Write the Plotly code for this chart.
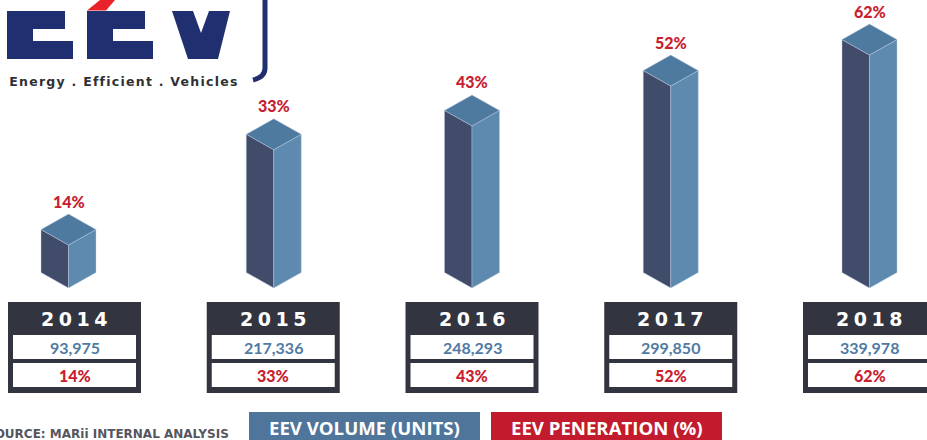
# EEV volume and penetration infographic, isometric columns drawn on a volume axis
import json

import plotly.graph_objects as go

# ── Data ─────────────────────────────────────────────────────────
YEARS = ["2014", "2015", "2016", "2017", "2018"]
VOLUME = [93975, 217336, 248293, 299850, 339978]
PENETRATION = [14, 33, 43, 52, 62]

# ── Colors ───────────────────────────────────────────────────────
FACE_LEFT = "#414c6a"
FACE_RIGHT = "#5d8aae"
FACE_TOP = "#4f7aa0"
EDGE = "rgba(190,205,228,0.55)"
TABLE_DARK = "#32353f"
BLUE_TEXT = "#4f7aa3"
RED_TEXT = "#c8202f"
LEGEND_BLUE = "#4f759b"
LEGEND_RED = "#c21b2e"
NAVY = "#1f2f70"
SWOOSH = "#e8232a"

# ── Canvas and scale ─────────────────────────────────────────────
W, H = 927, 440
COL_STEP = 198.75       # px between columns
COL_FIRST = 74.5        # px centre of first column
UNITS_PER_PX = 1295.0   # volume units per vertical px
BASE_VALUE = 38345      # volume at which a column has no height
BASE_PX = 288           # px row of that volume

X_RANGE = [(0 - COL_FIRST) / COL_STEP, (W - COL_FIRST) / COL_STEP]
Y_RANGE = [BASE_VALUE + (BASE_PX - H) * UNITS_PER_PX, BASE_VALUE + BASE_PX * UNITS_PER_PX]

HALF_W = 27.5 / COL_STEP        # half column width, in column units
DEPTH = 15.5 * UNITS_PER_PX     # isometric rise of the side edges
COL_NUDGE = [-6.0, 0.5, 0, 0, 0]  # first columns sit a little off their tables
TAGLINE = "Energy . Efficient . Vehicles"


def px(x):
    return x / W


def py(y):
    return 1 - y / H


def face(fig, xs, ys, color):
    fig.add_trace(go.Scatter(
        x=xs, y=ys, mode="lines", fill="toself", fillcolor=color,
        line=dict(color=EDGE, width=0.8), hoverinfo="skip", showlegend=False,
    ))


def label(fig, text, x, y, size, color, family="Lato", xanchor="center", xref="paper", weight="bold", xshift=0):
    fig.add_annotation(
        text=text, x=x, y=y, xref=xref, yref="paper", xanchor=xanchor, yanchor="middle", xshift=xshift,
        showarrow=False, font=dict(family=family, size=size, color=color, weight=weight),
    )


def rect(fig, x0, x1, y0, y1, color, xref="paper"):
    fig.add_shape(type="rect", xref=xref, yref="paper", x0=x0, x1=x1, y0=py(y0), y1=py(y1),
                  fillcolor=color, line=dict(width=0), layer="below")


fig = go.Figure()

# ── Columns ──────────────────────────────────────────────────────
for i, v in enumerate(VOLUME):
    c = i + COL_NUDGE[i] / COL_STEP
    l, r = c - HALF_W, c + HALF_W
    face(fig, [l, c, c, l, l], [v + DEPTH, v, BASE_VALUE, BASE_VALUE + DEPTH, v + DEPTH], FACE_LEFT)
    face(fig, [c, r, r, c, c], [v, v + DEPTH, BASE_VALUE + DEPTH, BASE_VALUE, v], FACE_RIGHT)
    face(fig, [l, c, r, c, l], [v + DEPTH, v + 2 * DEPTH, v + DEPTH, v, v + DEPTH], FACE_TOP)
    fig.add_annotation(
        text=f"{PENETRATION[i]}%", x=c, y=v + 2 * DEPTH, yshift=13, yanchor="middle",
        showarrow=False, font=dict(family="Lato", size=16, color=RED_TEXT, weight=900),
    )

# ── Tables under the columns ─────────────────────────────────────
for i, year in enumerate(YEARS):
    outer = 66.5 / COL_STEP
    inner = 61.5 / COL_STEP
    rect(fig, i - outer, i + outer, 302, 393, TABLE_DARK, xref="x")
    rect(fig, i - inner, i + inner, 335, 359, "white", xref="x")
    rect(fig, i - inner, i + inner, 363, 387, "white", xref="x")
    label(fig, year, i, py(318.5), 19, "white", family="DejaVu Sans", xref="x", xshift=2)
    label(fig, f"{VOLUME[i]:,}", i, py(347.5), 16, BLUE_TEXT, xref="x")
    label(fig, f"{PENETRATION[i]}%", i, py(375), 16, RED_TEXT, xref="x", weight=900)

# ── Legend strip and source ──────────────────────────────────────
rect(fig, px(249), px(480), 412, 440, LEGEND_BLUE)
rect(fig, px(491), px(722), 412, 440, LEGEND_RED)
label(fig, "EEV VOLUME (UNITS)", px(364.5), py(427), 18.6, "white", family="Open Sans")
label(fig, "EEV PENERATION (%)", px(606.5), py(427), 18.6, "white", family="Open Sans")
label(fig, "SOURCE: MARii INTERNAL ANALYSIS", px(231), py(434), 12, "#55565e",
      family="DejaVu Sans", xanchor="right")

# ── Logo ─────────────────────────────────────────────────────────
E_SHAPE = "M {a} 11 L {b} 11 L {b} 29 L {c} 29 L {c} 41 L {d} 41 L {d} 59 L {a} 59 Z"
logo_paths = [
    (E_SHAPE.format(a=7, b=65, c=33, d=73), NAVY),
    (E_SHAPE.format(a=87, b=145, c=113, d=153), NAVY),
    ("M 172 11 L 193 11 L 201 33 L 209 11 L 230 11 L 218 59 L 188 59 Z", NAVY),
    ("M 87 10.5 L 100 0 L 115 0 L 106 10.5 Z", SWOOSH),
]
for path, color in logo_paths:
    fig.add_shape(type="path", path=path, xref="x2", yref="y2", fillcolor=color, line=dict(width=0))
fig.add_shape(type="path", path="M 265 0 L 265 68 Q 265 77 253 80", xref="x2", yref="y2",
              line=dict(color=NAVY, width=5))
label(fig, TAGLINE, px(124), py(81), 12.5, "#2f3033", family="DejaVu Sans")

fig.update_layout(
    width=W,
    height=H,
    margin=dict(l=0, r=0, t=0, b=0),
    paper_bgcolor="white",
    plot_bgcolor="white",
    showlegend=False,
    xaxis=dict(range=X_RANGE, visible=False, fixedrange=True),
    yaxis=dict(range=Y_RANGE, visible=False, fixedrange=True),
    # pixel grid used only for the logo artwork
    xaxis2=dict(range=[0, W], visible=False, overlaying="x", fixedrange=True),
    yaxis2=dict(range=[H, 0], visible=False, overlaying="y", fixedrange=True),
)
fig.add_trace(go.Scatter(x=[None], y=[None], xaxis="x2", yaxis="y2", hoverinfo="skip"))

# plotly has no letter-spacing option, so the wide-set labels get it after the draw
POST_SCRIPT = """
document.body.style.margin = '0';
document.body.style.overflow = 'hidden';
var years = %s, tagline = %s;
document.querySelectorAll('.annotation-text').forEach(function (t) {
  if (years.indexOf(t.textContent) >= 0) { t.style.letterSpacing = '4.5px'; }
  if (t.textContent === tagline) { t.style.letterSpacing = '1.25px'; }
});
""" % (json.dumps(YEARS), json.dumps(TAGLINE))

fig.write_html("out.html", config=dict(displayModeBar=False), post_script=POST_SCRIPT)
